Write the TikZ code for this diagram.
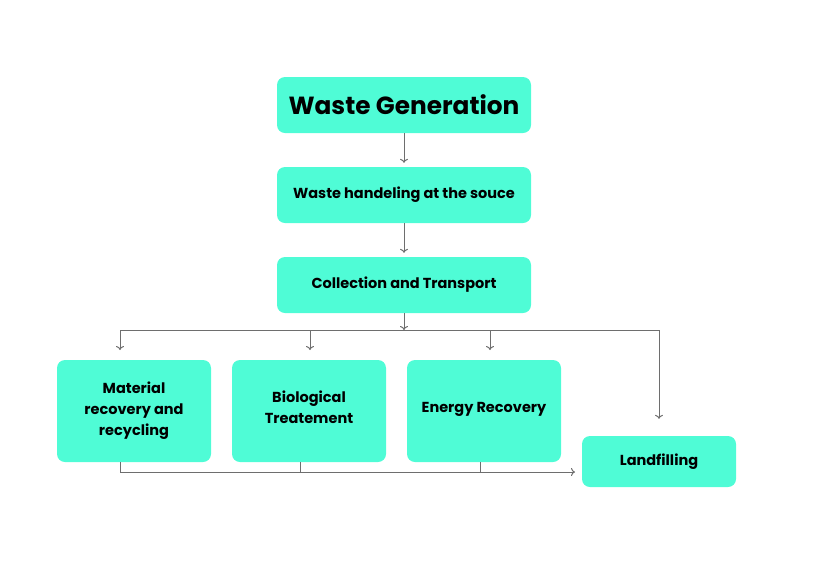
\documentclass[tikz,border=0pt]{standalone}
\usepackage{fontspec}
\setmainfont{Poppins}
\usetikzlibrary{arrows.meta}
\definecolor{boxfill}{RGB}{79,252,214}
\definecolor{linegray}{RGB}{110,110,110}
\tikzset{
  box/.style={fill=boxfill, rounded corners=8pt, inner sep=0pt, align=center, font=\bfseries\fontsize{14.5}{21}\selectfont},
  conn/.style={draw=linegray, line width=1pt},
  arr/.style={conn, -{To[length=4pt,width=8pt]}},
}
\begin{document}
\begin{tikzpicture}[x=1pt,y=-1pt]
\useasboundingbox (0,0) rectangle (817,582);
\node[box, minimum width=254pt, minimum height=56pt, font=\bfseries\fontsize{24.8}{28}\selectfont] (gen) at (404,105) {Waste Generation};
\node[box, minimum width=254pt, minimum height=56pt] (hand) at (404,195) {Waste handeling at the souce};
\node[box, minimum width=254pt, minimum height=56pt] (coll) at (404,285) {Collection and Transport};
\node[box, minimum width=154pt, minimum height=102pt] (mat) at (134,411) {Material\\recovery and\\recycling};
\node[box, minimum width=154pt, minimum height=102pt] (bio) at (309,411) {Biological\\Treatement\\[-13pt]\mbox{}};
\node[box, minimum width=154pt, minimum height=102pt] (ene) at (484,411) {Energy Recovery\\[-13pt]\mbox{}};
\node[box, minimum width=154pt, minimum height=51pt] (land) at (659,461.5) {Landfilling};
% vertical chain
\draw[arr] (gen.south) -- ([yshift=4pt]hand.north);
\draw[arr] (hand.south) -- ([yshift=4pt]coll.north);
% distribution bus
\coordinate (busC) at (404,330);
\coordinate (busL) at (120,330);
\coordinate (busR) at (659,330);
\draw[arr] (coll.south) -- (busC);
\draw[conn] (busL) -- (busR);
\draw[arr] (busL) -- (120,350);
\draw[arr] (310,330) -- (310,350);
\draw[arr] (490,330) -- (490,350);
\draw[arr] (busR) -- ([yshift=17pt]land.north);
% collecting line
\coordinate (m1) at (120,472);
\coordinate (b1) at (300,472);
\coordinate (e1) at (480,472);
\coordinate (lEnd) at (575,472);
\draw[conn] (mat.south -| m1) -- (m1);
\draw[conn] (bio.south -| b1) -- (b1);
\draw[conn] (ene.south -| e1) -- (e1);
\draw[arr] (m1) -- (lEnd);
\end{tikzpicture}
\end{document}
